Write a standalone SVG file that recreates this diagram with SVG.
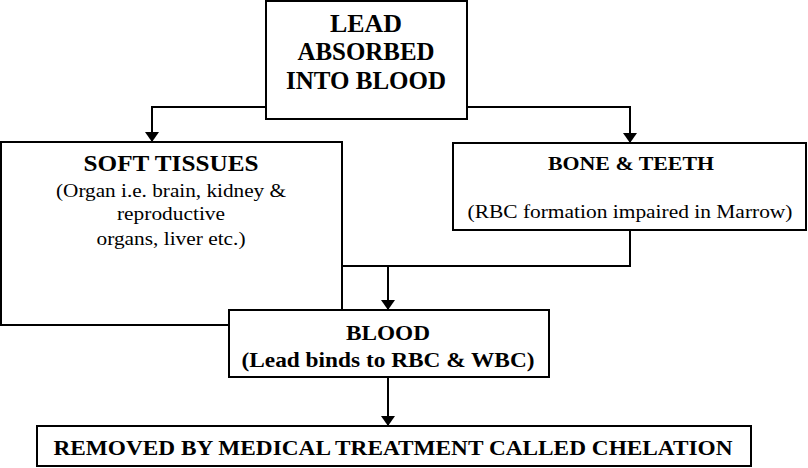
<svg xmlns="http://www.w3.org/2000/svg" width="808" height="468" viewBox="0 0 808 468">
<defs>
<style>
rect{fill:#fff;stroke:#000;stroke-width:2}
text{font-family:'Liberation Serif','Times New Roman',Tinos,'DejaVu Serif',serif;text-anchor:middle;fill:#000}
.b{font-weight:bold}
.c line,.c polyline{stroke:#000;stroke-width:2;fill:none}
</style>
<marker id="a" markerWidth="10" markerHeight="14" refX="9" refY="7" orient="auto" markerUnits="userSpaceOnUse" viewBox="0 0 10 14"><path d="M0,0L10,7L0,14Z" fill="#000"/></marker>
</defs>
<g class="c">
<polyline points="266,107 152,107 152,141" marker-end="url(#a)"/>
<polyline points="467,107 630,107 630,142" marker-end="url(#a)"/>
<polyline points="630,230 630,266 342,266"/>
<line x1="388" y1="266" x2="388" y2="309" marker-end="url(#a)"/>
<line x1="388" y1="377" x2="388" y2="425" marker-end="url(#a)"/>
</g>
<g id="lead"><rect x="266" y="1" width="201" height="118"/>
<text class="b" font-size="25" y="32" x="366" textLength="72" lengthAdjust="spacingAndGlyphs">LEAD</text>
<text class="b" font-size="25" y="60" x="366" textLength="137" lengthAdjust="spacingAndGlyphs">ABSORBED</text>
<text class="b" font-size="25" y="89" x="366" textLength="160" lengthAdjust="spacingAndGlyphs">INTO BLOOD</text></g>
<g id="soft"><rect x="1" y="142" width="341" height="183"/>
<text class="b" font-size="24" x="171" y="171" textLength="175" lengthAdjust="spacingAndGlyphs">SOFT TISSUES</text>
<text font-size="18" x="171" y="197" textLength="230" lengthAdjust="spacingAndGlyphs">(Organ i.e. brain, kidney &amp;</text>
<text font-size="18" x="171" y="220" textLength="108" lengthAdjust="spacingAndGlyphs">reproductive</text>
<text font-size="18" x="171" y="245" textLength="149" lengthAdjust="spacingAndGlyphs">organs, liver etc.)</text></g>
<g id="bone"><rect x="453" y="143" width="353" height="87"/>
<text class="b" font-size="18" x="631" y="170" textLength="166" lengthAdjust="spacingAndGlyphs">BONE &amp; TEETH</text>
<text font-size="18" x="630" y="218" textLength="325" lengthAdjust="spacingAndGlyphs">(RBC formation impaired in Marrow)</text></g>
<g id="blood"><rect x="229" y="310" width="320" height="67"/>
<text class="b" font-size="21" x="388" y="340" textLength="84" lengthAdjust="spacingAndGlyphs">BLOOD</text>
<text class="b" font-size="21" x="388" y="367" textLength="293" lengthAdjust="spacingAndGlyphs">(Lead binds to RBC &amp; WBC)</text></g>
<g id="removed"><rect x="37" y="426" width="714" height="40"/>
<text class="b" font-size="21" x="393" y="455" textLength="679" lengthAdjust="spacingAndGlyphs">REMOVED BY MEDICAL TREATMENT CALLED CHELATION</text></g>
</svg>
